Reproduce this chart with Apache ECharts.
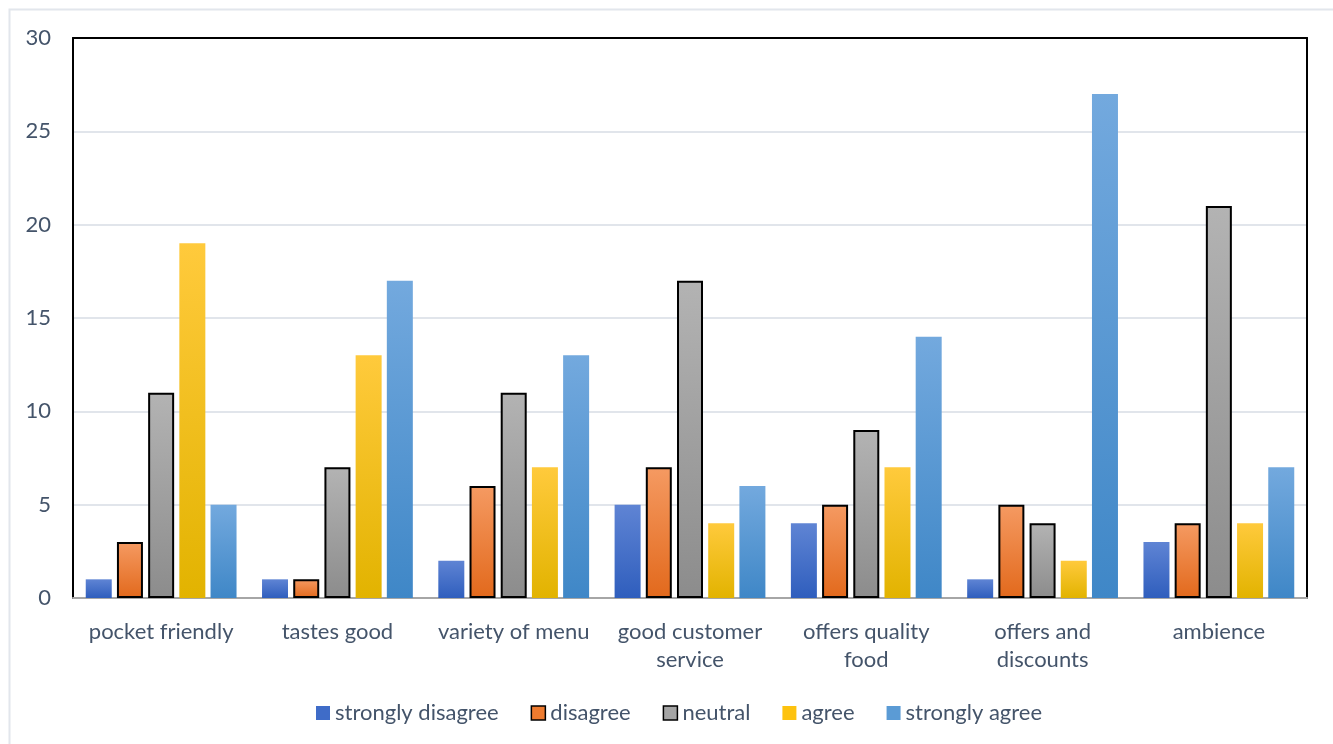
<!DOCTYPE html>
<html>
<head>
<meta charset="utf-8">
<script src="https://cdn.jsdelivr.net/npm/echarts@6/dist/echarts.min.js"></script>
<style>
  html, body { margin: 0; padding: 0; background: #ffffff; }
  #chart { width: 1333px; height: 744px; }
</style>
</head>
<body>
<div id="chart"></div>
<script>
// Survey answers per attribute
const categories = ['pocket friendly', 'tastes good', 'variety of menu', 'good customer\nservice', 'offers quality\nfood', 'offers and\ndiscounts', 'ambience'];
const seriesNames = ['strongly disagree', 'disagree', 'neutral', 'agree', 'strongly agree'];
const stronglyDisagree = [1, 1, 2, 5, 4, 1, 3];
const disagree = [3, 1, 6, 7, 5, 5, 4];
const neutral = [11, 7, 11, 17, 9, 4, 21];
const agree = [19, 13, 7, 4, 7, 2, 4];
const stronglyAgree = [5, 17, 13, 6, 14, 27, 7];
const yTicks = { min: 0, max: 30, interval: 5 };

const textColor = '#44546a';
const fontFamily = 'Lato, "Open Sans", sans-serif';

function grad(top, bottom) {
  return new echarts.graphic.LinearGradient(0, 0, 0, 1, [
    { offset: 0, color: top },
    { offset: 1, color: bottom }
  ]);
}

const styles = [
  { color: grad('#5f84d4', '#2f5ebd'), borderColor: null },
  { color: grad('#f59a62', '#e2691c'), borderColor: '#000000' },
  { color: grad('#b3b3b3', '#8c8c8c'), borderColor: '#000000' },
  { color: grad('#ffca3c', '#e2b300'), borderColor: null },
  { color: grad('#73a9de', '#3f87c7'), borderColor: null }
];
const legendIcons = [
  { color: '#3f6cc8' },
  { color: '#ee7b2f', borderColor: '#000', borderWidth: 1.5 },
  { color: '#a5a5a5', borderColor: '#000', borderWidth: 1.5 },
  { color: '#fdc20e' },
  { color: '#5b9bd5' }
];
const values = [stronglyDisagree, disagree, neutral, agree, stronglyAgree];

const frameLine = { show: true, onZero: false, lineStyle: { color: '#000000', width: 2 } };

const chart = echarts.init(document.getElementById('chart'), null, { renderer: 'canvas' });

chart.setOption({
  backgroundColor: '#ffffff',
  animation: false,
  graphic: [{
    type: 'rect',
    shape: { x: 9.5, y: 9.5, width: 1400, height: 800 },
    style: { fill: 'none', stroke: '#e2e6ec', lineWidth: 2 },
    z: -1
  }],
  grid: {
    left: 73, right: 26, top: 38, bottom: 146,
    show: false
  },
  legend: {
    top: 697,
    left: 311,
    itemWidth: 14,
    itemHeight: 14,
    itemGap: 32,
    icon: 'rect',
    textStyle: { color: textColor, fontSize: 22, fontFamily: fontFamily },
    data: seriesNames.map((n, i) => ({ name: n, itemStyle: legendIcons[i] }))
  },
  xAxis: [{
    type: 'category',
    data: categories,
    axisLine: { show: true, lineStyle: { color: '#a6a6a6', width: 2 } },
    axisTick: { show: false },
    axisLabel: {
      color: textColor, fontSize: 22, fontFamily: fontFamily,
      margin: 20, lineHeight: 28, interval: 0
    },
    splitLine: { show: false }
  }, {
    // top edge of the plot frame
    type: 'category',
    position: 'top',
    data: categories,
    axisLine: frameLine,
    axisTick: { show: false },
    axisLabel: { show: false },
    splitLine: { show: false }
  }],
  yAxis: [{
    type: 'value',
    min: yTicks.min, max: yTicks.max, interval: yTicks.interval,
    axisLine: frameLine,
    axisTick: { show: false },
    axisLabel: { color: textColor, fontSize: 22, fontFamily: fontFamily, margin: 22 },
    splitLine: {
      showMinLine: false,
      showMaxLine: false,
      lineStyle: { color: '#e1e5eb', width: 2 }
    }
  }, {
    // right edge of the plot frame
    type: 'value',
    position: 'right',
    min: yTicks.min, max: yTicks.max, interval: yTicks.interval,
    axisLine: frameLine,
    axisTick: { show: false },
    axisLabel: { show: false },
    splitLine: { show: false }
  }],
  series: seriesNames.map((name, i) => ({
    name: name,
    type: 'bar',
    data: values[i],
    barWidth: 26,
    barGap: '20%',
    itemStyle: Object.assign(
      { color: styles[i].color },
      styles[i].borderColor ? { borderColor: styles[i].borderColor, borderWidth: 2 } : {}
    )
  }))
});
</script>
</body>
</html>
